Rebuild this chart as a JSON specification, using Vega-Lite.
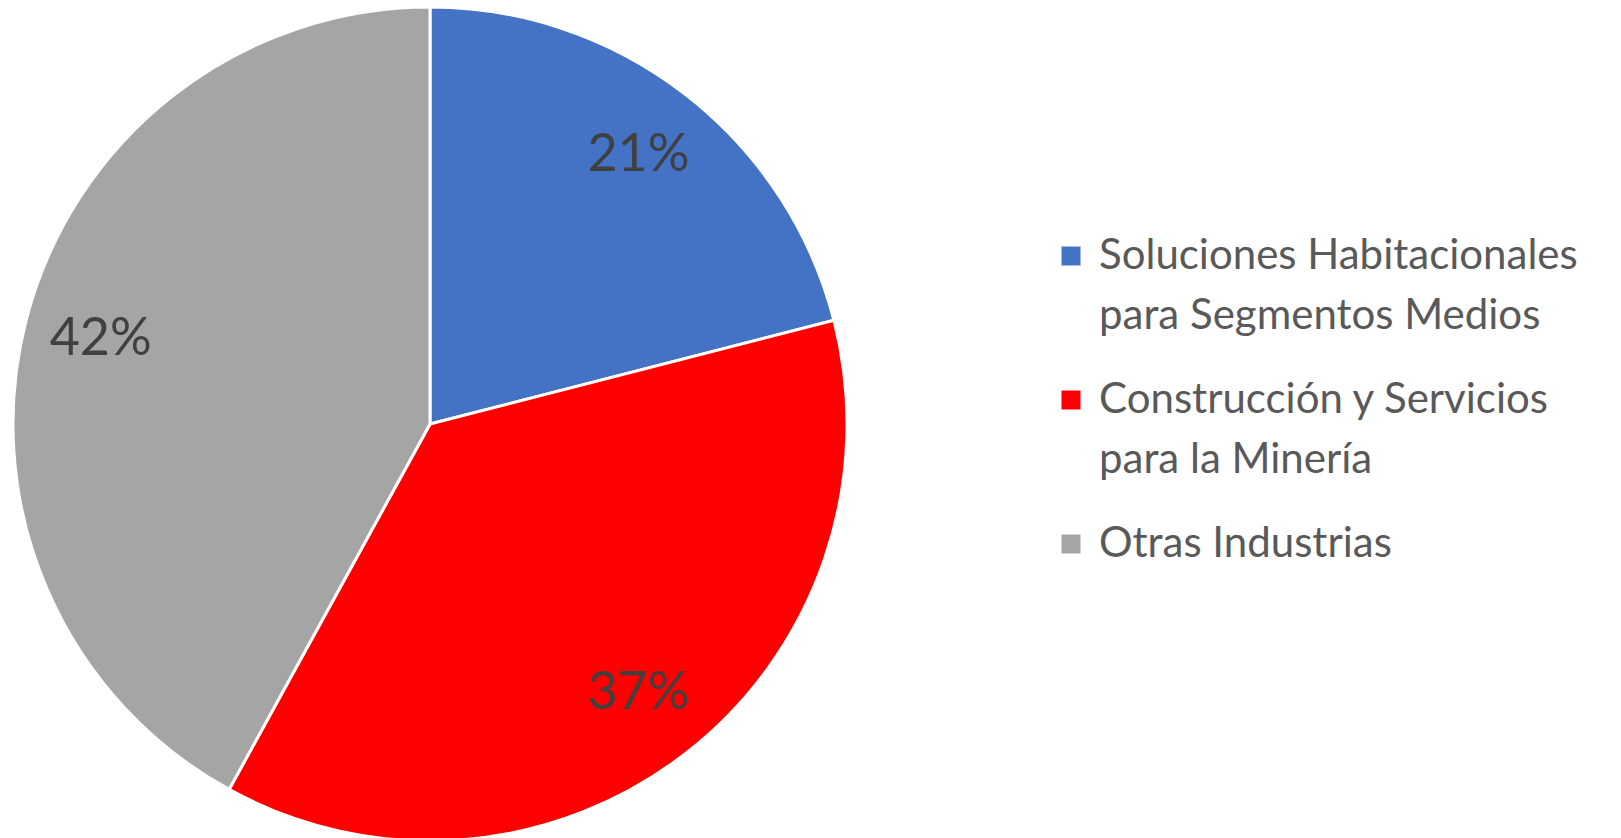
{
  "$schema": "https://vega.github.io/schema/vega-lite/v6.json",
  "width": 860,
  "height": 848,
  "padding": 0,
  "background": "white",
  "config": {"style": {"guide-label": {"lineHeight": 60}}},
  "data": {"values": [
    {"category": "Soluciones Habitacionales para Segmentos Medios", "value": 21, "order": 1, "label": "21%"},
    {"category": "Construcción y Servicios para la Minería", "value": 37, "order": 2, "label": "37%"},
    {"category": "Otras Industrias", "value": 42, "order": 3, "label": "42%"}
  ]},
  "encoding": {
    "theta": {"field": "value", "type": "quantitative", "stack": true},
    "order": {"field": "order", "type": "quantitative"}
  },
  "layer": [
    {
      "mark": {"type": "arc", "radius": 417, "stroke": "white", "strokeWidth": 3},
      "encoding": {
        "color": {
          "field": "category", "type": "nominal",
          "scale": {
            "domain": ["Soluciones Habitacionales para Segmentos Medios", "Construcción y Servicios para la Minería", "Otras Industrias"],
            "range": ["#4472C4", "#FF0000", "#A5A5A5"]
          },
          "legend": {
            "title": null,
            "orient": "none",
            "legendX": 1050,
            "legendY": 235,
            "symbolType": "square",
            "symbolSize": 361,
            "symbolStrokeWidth": 0,
            "symbolOpacity": 1,
            "labelFont": "Lato",
            "labelFontSize": 42,
            "labelColor": "#595959",
            "labelOffset": 7,
            "labelLimit": 0,
            "rowPadding": 42,
            "labelExpr": "datum.label == 'Soluciones Habitacionales para Segmentos Medios' ? ['Soluciones Habitacionales', 'para Segmentos Medios'] : datum.label == 'Construcción y Servicios para la Minería' ? ['Construcción y Servicios', 'para la Minería'] : datum.label"
          }
        }
      }
    },
    {
      "mark": {"type": "text", "radius": 340, "font": "Lato", "fontSize": 52, "color": "#404040"},
      "encoding": {"text": {"field": "label", "type": "nominal"}}
    }
  ]
}
